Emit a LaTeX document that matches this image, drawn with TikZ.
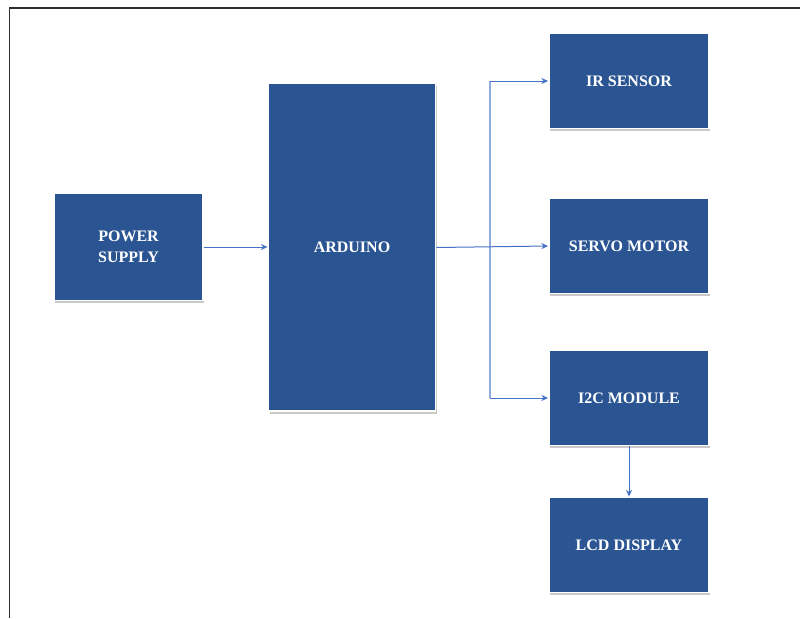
\documentclass[tikz,border=0pt]{standalone}
\usepackage{fontspec}
\setmainfont{Liberation Serif}
\usetikzlibrary{arrows.meta,shadows}
\definecolor{boxblue}{HTML}{2B5592}
\definecolor{linkblue}{HTML}{4472C4}
\definecolor{branchblue}{HTML}{8FAADC}
\definecolor{framegrey}{HTML}{2E2E2E}
\tikzset{
  blk/.style={rectangle, fill=boxblue, draw=white, line width=1.4pt,
    text=white, font=\bfseries\fontsize{12}{14}\selectfont, align=center,
    inner sep=0pt,
    drop shadow={shadow xshift=1.0pt, shadow yshift=-2.2pt, opacity=0.3, fill=black!70}},
  smallblk/.style={blk, minimum width=120pt, minimum height=71.25pt},
  link/.style={draw=linkblue, line width=0.75pt, -{Stealth[length=5pt,width=4.5pt]}},
  branch/.style={draw=branchblue, line width=1.1pt},
  frameline/.style={draw=framegrey, line width=1.3pt}
}
\begin{document}
\begin{tikzpicture}[x=0.75pt,y=-0.75pt]
\useasboundingbox (0,0) rectangle (800,618);
\coordinate (f1) at (9.5,618);
\coordinate (f2) at (9.5,8);
\coordinate (f3) at (800,8);
\draw[frameline] (f1) -- (f2) -- (f3);

\node[blk, minimum width=111.75pt, minimum height=80.25pt] (pow) at (128.5,247) {POWER\\[2pt]SUPPLY};
\node[blk, minimum width=125.25pt, minimum height=246pt] (ard) at (352,247) {ARDUINO};
\node[smallblk] (ir) at (629,81) {IR SENSOR};
\node[smallblk] (servo) at (629,246) {SERVO MOTOR};
\node[smallblk] (i2c) at (629,398) {I2C MODULE};
\node[smallblk] (lcd) at (629,545) {LCD DISPLAY};

\coordinate (btop) at (490,81);
\coordinate (bbot) at (490,398);
\draw[branch] (btop) -- (bbot);

\draw[link] (pow.east) -- (ard.west |- pow.east);
\draw[link] (ard.east |- 0,247.5) -- (servo.west);
\draw[link] (btop) -- (ir.west);
\draw[link] (bbot) -- (i2c.west);
\draw[link] (i2c.south) -- (lcd.north);
\end{tikzpicture}
\end{document}
